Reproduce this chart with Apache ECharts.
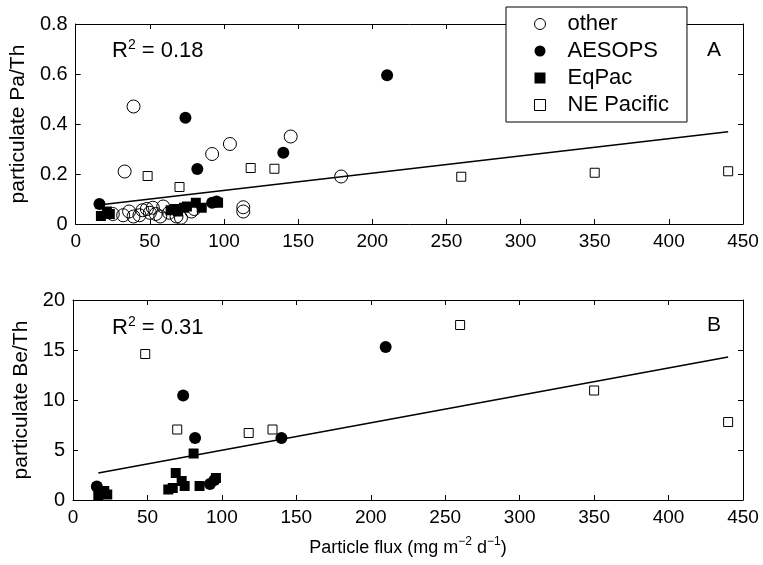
<!DOCTYPE html>
<html>
<head>
<meta charset="utf-8">
<script src="https://cdn.jsdelivr.net/npm/echarts@6/dist/echarts.min.js"></script>
<style>
  html, body { margin: 0; padding: 0; background: #fff; }
  #chart { width: 763px; height: 565px; }
</style>
</head>
<body>
<div id="chart"></div>
<script>
// flux (mg m-2 d-1) per group
var otherFlux = [39, 33, 92, 104, 145, 179, 113, 113, 25, 32, 36, 39, 43, 45, 48, 50, 52, 54, 57, 59, 63, 68, 71, 78, 80];
var otherPa = [0.47, 0.21, 0.28, 0.32, 0.35, 0.19, 0.067, 0.05, 0.04, 0.035, 0.05, 0.03, 0.035, 0.055, 0.06, 0.045, 0.065, 0.04, 0.03, 0.07, 0.045, 0.03, 0.025, 0.05, 0.06];

var aesopsFlux = [16, 74, 82, 140, 210, 92, 95];
var aesopsPa = [0.08, 0.425, 0.22, 0.285, 0.595, 0.085, 0.09];
var aesopsBe = [1.35, 10.45, 6.2, 6.2, 15.3, 1.6, 2.0];

var eqpacFlux = [17, 21, 23, 64, 67, 69, 73, 75, 81, 85, 96];
var eqpacPa = [0.032, 0.05, 0.04, 0.055, 0.06, 0.05, 0.065, 0.07, 0.085, 0.065, 0.085];
var eqpacBe = [0.4, 0.9, 0.55, 1.05, 1.2, 2.7, 1.9, 1.4, 4.65, 1.4, 2.2];

var nepacFlux = [48.5, 70, 118, 134, 260, 350, 440];
var nepacPa = [0.192, 0.148, 0.224, 0.221, 0.189, 0.205, 0.211];
var nepacBe = [14.6, 7.05, 6.7, 7.05, 17.5, 10.95, 7.8];

// regression lines
var fitFlux = [17, 440];
var fitPa = [0.077, 0.369];
var fitBe = [2.7, 14.3];

var xTicks = [0, 50, 100, 150, 200, 250, 300, 350, 400, 450];
var paTicks = [0, 0.2, 0.4, 0.6, 0.8];
var beTicks = [0, 5, 10, 15, 20];

var seriesNames = ['other', 'AESOPS', 'EqPac', 'NE Pacific'];

function pairs(xs, ys) {
  return xs.map(function (x, i) { return [x, ys[i]]; });
}

var font = 'Liberation Sans, Arial, sans-serif';
var chartDom = document.getElementById('chart');
var myChart = echarts.init(chartDom, null, { renderer: 'canvas' });

function xAx(grid, pos, showLabel, name) {
  return {
    type: 'value', gridIndex: grid, position: pos,
    min: xTicks[0], max: xTicks[xTicks.length - 1], interval: 50,
    axisLine: { show: true, onZero: false, lineStyle: { color: '#000', width: 1 } },
    axisTick: { show: true, inside: true, length: 5, lineStyle: { color: '#000' } },
    axisLabel: { show: showLabel, color: '#000', fontSize: 19, fontFamily: font, margin: 8 },
    splitLine: { show: false },
    name: name || '',
    nameLocation: 'middle',
    nameGap: 36,
    nameTextStyle: {
      color: '#000', fontSize: 18, fontFamily: font, lineHeight: 24,
      rich: { sup: { fontSize: 12, verticalAlign: 'top', lineHeight: 24, color: '#000', fontFamily: font } }
    }
  };
}

function yAx(grid, pos, ticks, step, showLabel, name) {
  return {
    type: 'value', gridIndex: grid, position: pos,
    min: ticks[0], max: ticks[ticks.length - 1], interval: step,
    axisLine: { show: true, onZero: false, lineStyle: { color: '#000', width: 1 } },
    axisTick: { show: true, inside: true, length: 5, lineStyle: { color: '#000' } },
    axisLabel: { show: showLabel, color: '#000', fontSize: 20, fontFamily: font, margin: 8 },
    splitLine: { show: false },
    name: name || '',
    nameLocation: 'middle',
    nameGap: 40,
    nameTextStyle: { color: '#000', fontSize: 21, fontFamily: font }
  };
}

var openCircle = { color: 'rgba(0,0,0,0)', borderColor: '#000', borderWidth: 1, opacity: 1 };
var filled = { color: '#000', opacity: 1 };
var openSquare = { color: '#fff', borderColor: '#000', borderWidth: 1, opacity: 1 };

function scatter(name, xi, yi, data, symbol, size, style) {
  return {
    name: name, type: 'scatter', xAxisIndex: xi, yAxisIndex: yi,
    data: data, symbol: symbol, symbolSize: size, itemStyle: style,
    silent: true, z: 3
  };
}

function fitLine(xi, yi, data) {
  return {
    type: 'line', xAxisIndex: xi, yAxisIndex: yi, data: data,
    showSymbol: false, symbol: 'none', silent: true, z: 4,
    lineStyle: { color: '#000', width: 1.5 }
  };
}

function note(text, left, top, size) {
  return {
    text: text, left: left, top: top, padding: 0,
    textStyle: {
      color: '#000', fontSize: size, fontWeight: 'normal', fontFamily: font, lineHeight: 26,
      rich: { sup: { fontSize: 14, verticalAlign: 'top', lineHeight: 26, color: '#000', fontFamily: font } }
    }
  };
}

var option = {
  backgroundColor: '#fff',
  animation: false,
  textStyle: { fontFamily: font },
  grid: [
    { left: 73, top: 24, right: 20, height: 200, show: false },
    { left: 73, top: 300, right: 20, height: 200, show: false }
  ],
  xAxis: [
    xAx(0, 'bottom', true),
    xAx(0, 'top', false),
    xAx(1, 'bottom', true, 'Particle flux (mg m{sup|\u22122} d{sup|\u22121})'),
    xAx(1, 'top', false)
  ],
  yAxis: [
    yAx(0, 'left', paTicks, 0.2, true, 'particulate Pa/Th'),
    yAx(0, 'right', paTicks, 0.2, false),
    yAx(1, 'left', beTicks, 5, true, 'particulate Be/Th'),
    yAx(1, 'right', beTicks, 5, false)
  ],
  title: [
    note('R{sup|2} = 0.18', 112, 38, 22),
    note('A', 707, 37, 21),
    note('R{sup|2} = 0.31', 112, 315, 22),
    note('B', 707, 312, 21)
  ],
  legend: {
    orient: 'vertical',
    left: 506, top: 7,
    padding: [6, 18, 6, 28],
    itemGap: 5,
    itemWidth: 11, itemHeight: 11,
    backgroundColor: '#fff',
    borderColor: '#000', borderWidth: 1,
    textStyle: { color: '#000', fontSize: 22, fontFamily: font, padding: [0, 0, 0, 17], lineHeight: 22 },
    data: [
      { name: 'other', icon: 'circle', itemStyle: { color: 'rgba(0,0,0,0)', borderColor: '#000', borderWidth: 1 } },
      { name: 'AESOPS', icon: 'circle', itemStyle: { color: '#000' } },
      { name: 'EqPac', icon: 'rect', itemStyle: { color: '#000' } },
      { name: 'NE Pacific', icon: 'rect', itemStyle: { color: '#fff', borderColor: '#000', borderWidth: 1 } }
    ],
    selectedMode: false
  },
  series: [
    fitLine(0, 0, pairs(fitFlux, fitPa)),
    scatter(seriesNames[0], 0, 0, pairs(otherFlux, otherPa), 'circle', 13, openCircle),
    scatter(seriesNames[1], 0, 0, pairs(aesopsFlux, aesopsPa), 'circle', 12, filled),
    scatter(seriesNames[2], 0, 0, pairs(eqpacFlux, eqpacPa), 'rect', 10, filled),
    scatter(seriesNames[3], 0, 0, pairs(nepacFlux, nepacPa), 'rect', 9, openSquare),
    fitLine(2, 2, pairs(fitFlux, fitBe)),
    scatter(seriesNames[1], 2, 2, pairs(aesopsFlux, aesopsBe), 'circle', 12, filled),
    scatter(seriesNames[2], 2, 2, pairs(eqpacFlux, eqpacBe), 'rect', 10, filled),
    scatter(seriesNames[3], 2, 2, pairs(nepacFlux, nepacBe), 'rect', 9, openSquare)
  ]
};

option && myChart.setOption(option);
</script>
</body>
</html>
